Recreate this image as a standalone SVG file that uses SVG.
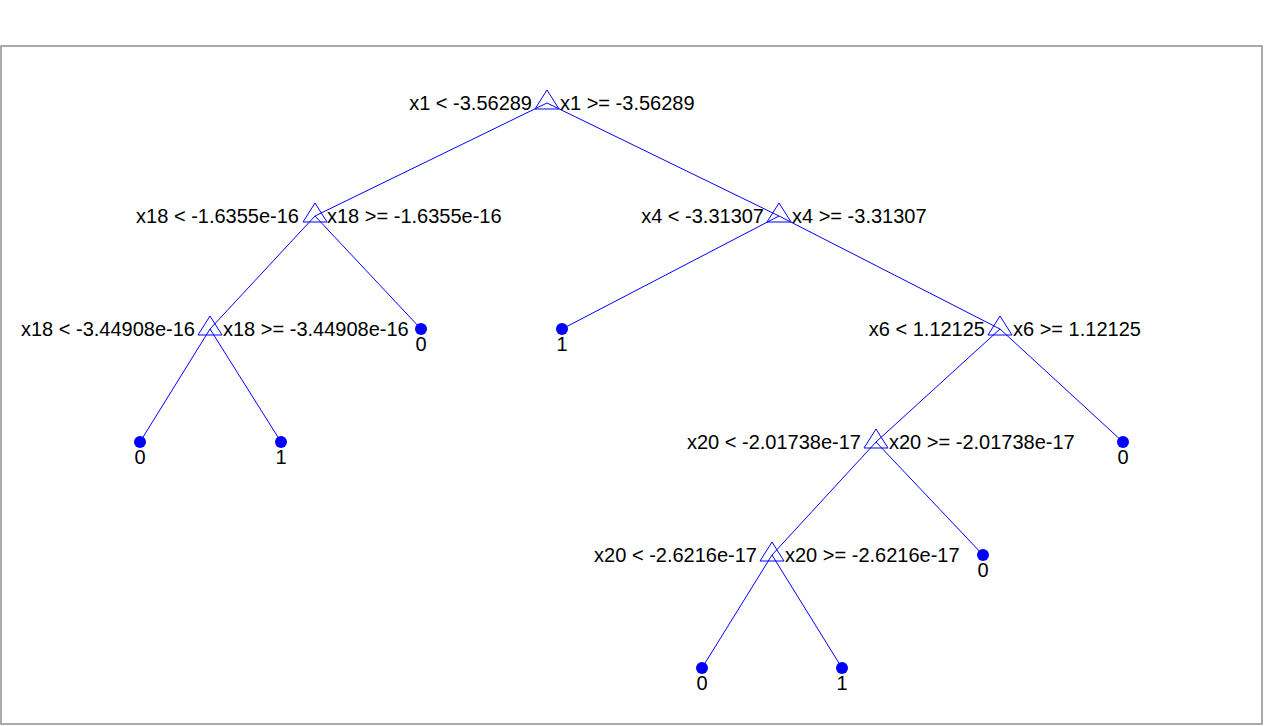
<svg xmlns="http://www.w3.org/2000/svg" width="1264" height="726" viewBox="0 0 1264 726">
<defs>
<style>
.bg{fill:#ffffff}
.frame{fill:none;stroke:#8f8f8f;stroke-width:1.5}
.edge{stroke:#0000ff;stroke-width:1;fill:none}
.tri{fill:none;stroke:#0000ff;stroke-width:1}
.leaf{fill:#0000ff}
text{font-family:"Liberation Sans",Arial,sans-serif;font-size:20px;fill:#000000}
.l{text-anchor:end}
.r{text-anchor:start}
.c{text-anchor:middle}
</style>
<path id="triShape" d="M0,-13 L12,6 L-12,6 Z"/>
</defs>
<rect class="bg" x="0" y="0" width="1264" height="726"/>
<rect class="frame" x="1" y="46" width="1261" height="678"/>
<g id="connectors">
<line class="edge" x1="547" y1="103" x2="315" y2="216"/>
<line class="edge" x1="547" y1="103" x2="779" y2="216"/>
<line class="edge" x1="315" y1="216" x2="210" y2="329"/>
<line class="edge" x1="315" y1="216" x2="421" y2="329"/>
<line class="edge" x1="779" y1="216" x2="562" y2="329"/>
<line class="edge" x1="779" y1="216" x2="1000" y2="329"/>
<line class="edge" x1="210" y1="329" x2="140" y2="442"/>
<line class="edge" x1="210" y1="329" x2="281" y2="442"/>
<line class="edge" x1="1000" y1="329" x2="876" y2="442"/>
<line class="edge" x1="1000" y1="329" x2="1123" y2="442"/>
<line class="edge" x1="876" y1="442" x2="772" y2="555"/>
<line class="edge" x1="876" y1="442" x2="983" y2="555"/>
<line class="edge" x1="772" y1="555" x2="702" y2="668"/>
<line class="edge" x1="772" y1="555" x2="842" y2="668"/>
</g>
<g id="n1"><use href="#triShape" class="tri" x="547" y="103"/><text class="l" x="532" y="110">x1 &lt; -3.56289</text><text class="r" x="560" y="110">x1 &gt;= -3.56289</text></g>
<g id="n2"><use href="#triShape" class="tri" x="315" y="216"/><text class="l" x="299" y="223">x18 &lt; -1.6355e-16</text><text class="r" x="327" y="223">x18 &gt;= -1.6355e-16</text></g>
<g id="n3"><use href="#triShape" class="tri" x="779" y="216"/><text class="l" x="764" y="223">x4 &lt; -3.31307</text><text class="r" x="792" y="223">x4 &gt;= -3.31307</text></g>
<g id="n4"><use href="#triShape" class="tri" x="210" y="329"/><text class="l" x="195" y="336">x18 &lt; -3.44908e-16</text><text class="r" x="223" y="336">x18 &gt;= -3.44908e-16</text></g>
<g id="n5"><circle class="leaf" cx="421" cy="329" r="6"/><text class="c" x="421" y="351">0</text></g>
<g id="n6"><circle class="leaf" cx="562" cy="329" r="6"/><text class="c" x="562" y="351">1</text></g>
<g id="n7"><use href="#triShape" class="tri" x="1000" y="329"/><text class="l" x="985" y="336">x6 &lt; 1.12125</text><text class="r" x="1013" y="336">x6 &gt;= 1.12125</text></g>
<g id="n8"><circle class="leaf" cx="140" cy="442" r="6"/><text class="c" x="140" y="464">0</text></g>
<g id="n9"><circle class="leaf" cx="281" cy="442" r="6"/><text class="c" x="281" y="464">1</text></g>
<g id="n10"><use href="#triShape" class="tri" x="876" y="442"/><text class="l" x="861" y="449">x20 &lt; -2.01738e-17</text><text class="r" x="889" y="449">x20 &gt;= -2.01738e-17</text></g>
<g id="n11"><circle class="leaf" cx="1123" cy="442" r="6"/><text class="c" x="1123" y="464">0</text></g>
<g id="n12"><use href="#triShape" class="tri" x="772" y="555"/><text class="l" x="757" y="562">x20 &lt; -2.6216e-17</text><text class="r" x="785" y="562">x20 &gt;= -2.6216e-17</text></g>
<g id="n13"><circle class="leaf" cx="983" cy="555" r="6"/><text class="c" x="983" y="577">0</text></g>
<g id="n14"><circle class="leaf" cx="702" cy="668" r="6"/><text class="c" x="702" y="690">0</text></g>
<g id="n15"><circle class="leaf" cx="842" cy="668" r="6"/><text class="c" x="842" y="690">1</text></g>
</svg>
